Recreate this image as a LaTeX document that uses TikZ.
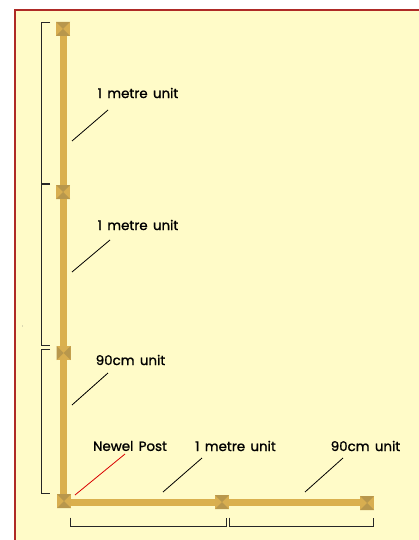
\documentclass[tikz,border=0pt]{standalone}
\usepackage{fontspec}
\newfontfamily\labelfont[FakeBold=1.2,WordSpace=1.5]{Poppins}
\definecolor{cream}{HTML}{FFFBC8}
\definecolor{rail}{HTML}{DAB04E}
\definecolor{postlight}{HTML}{D8AE50}
\definecolor{postdark}{HTML}{B8974C}
\definecolor{frame}{HTML}{AE2A26}
\tikzset{
  postbase/.style={minimum size=14pt,inner sep=0pt,fill=postlight},
  postv/.style={postbase,path picture={
    \fill[postdark] (path picture bounding box.north west) -- (path picture bounding box.north east) -- (path picture bounding box.center) -- cycle;
    \fill[postdark] (path picture bounding box.south west) -- (path picture bounding box.south east) -- (path picture bounding box.center) -- cycle;}},
  posth/.style={postbase,path picture={
    \fill[postdark] (path picture bounding box.north west) -- (path picture bounding box.south west) -- (path picture bounding box.center) -- cycle;
    \fill[postdark] (path picture bounding box.north east) -- (path picture bounding box.south east) -- (path picture bounding box.center) -- cycle;}},
  railline/.style={draw=rail,line width=7pt},
  label/.style={font=\fontsize{13.4}{15}\selectfont\labelfont,inner sep=0pt,text=black},
  leader/.style={draw=black,line width=.8pt},
  bracket/.style={draw=black!85,line width=.9pt},
}
\begin{document}
\begin{tikzpicture}[x=1pt,y=-1pt]
\useasboundingbox (0,0) rectangle (419,540);
\fill[white] (0,0) rectangle (419,540);
\fill[cream] (15,10) rectangle (419,540);
\draw[frame,line width=2.4pt] (15,560) -- (15,10) -- (440,10);
\fill[black!60] (22.5,326) circle (.4pt);
\coordinate (vr) at (63.5,0);
\coordinate (hr) at (0,502.5);
\node[postv] (p1) at (63,29) {};
\node[postv] (p2) at (63,192) {};
\node[posth] (p3) at (63.7,353) {};
\node[postv] (p4) at (64,501) {};
\node[postv] (p5) at (222,502) {};
\node[postv] (p6) at (367,503) {};
\draw[railline] (p1.south -| vr) -- (p2.north -| vr);
\draw[railline] (p2.south -| vr) -- (p3.north -| vr);
\draw[railline] (p3.south -| vr) -- (p4.north -| vr);
\draw[railline] (p4.east |- hr) -- (p5.west |- hr);
\draw[railline] (p5.east |- hr) -- (p6.west |- hr);
\node[label] (l1) at (138,93) {1 metre unit};
\node[label] (l2) at (138,225) {1 metre unit};
\node[label] (l3) at (130.5,360) {90cm unit};
\node[label] (l4) at (130,446) {Newel Post};
\node[label] (l5) at (235.5,446) {1 metre unit};
\node[label] (l6) at (365.5,446) {90cm unit};
\coordinate (a1) at (108,110); \coordinate (b1) at (72,141);
\coordinate (a2) at (110,240); \coordinate (b2) at (72,272);
\coordinate (a3) at (108,373); \coordinate (b3) at (72,405);
\coordinate (a4) at (125,454); \coordinate (b4) at (75,495);
\coordinate (a5) at (202,458); \coordinate (b5) at (163,492);
\coordinate (a6) at (343,458); \coordinate (b6) at (305,492);
\draw[leader] (a1) -- (b1);
\draw[leader] (a2) -- (b2);
\draw[leader] (a3) -- (b3);
\draw[leader,draw=red!85!black] (a4) -- (b4);
\draw[leader] (a5) -- (b5);
\draw[leader] (a6) -- (b6);
\draw[bracket] (50,22.4) -- (41.5,22.4) -- (41.5,183) -- (50,183);
\draw[bracket] (50,184.4) -- (41.5,184.4) -- (41.5,345) -- (50,345);
\draw[bracket] (50,349) -- (41.5,349) -- (41.5,493) -- (50,493);
\draw[bracket] (70,517.5) -- (70,526) -- (226.7,526) -- (226.7,517.5);
\draw[bracket] (229.4,517.5) -- (229.4,526) -- (373.7,526) -- (373.7,517.5);
\end{tikzpicture}
\end{document}
